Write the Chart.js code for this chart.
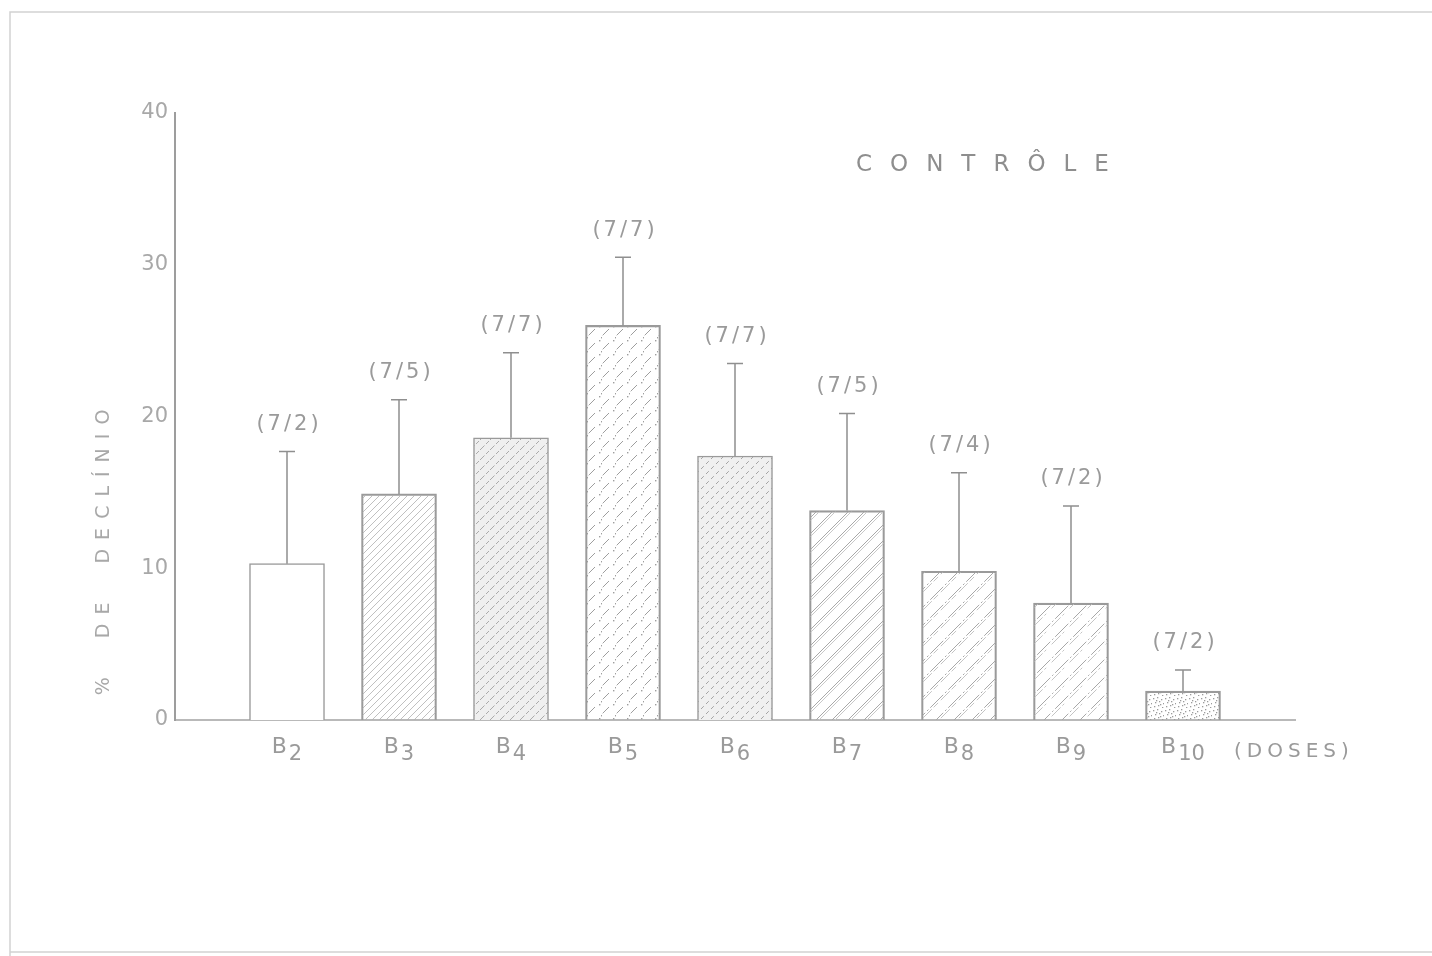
<!DOCTYPE html>
<html>
<head>
<meta charset="utf-8">
<script src="https://cdn.jsdelivr.net/npm/chart.js@4.4.1/dist/chart.umd.min.js"></script>
<style>
  html, body { margin: 0; padding: 0; background: #fff; }
  #wrap { width: 1432px; height: 956px; position: relative; }
</style>
</head>
<body>
<div id="wrap"><canvas id="c" width="1432" height="956"></canvas></div>
<script>
// ---- Data ----
const categories = ['B2', 'B3', 'B4', 'B5', 'B6', 'B7', 'B8', 'B9', 'B10'];
const meanDecline = [10.3, 14.9, 18.6, 26.0, 17.4, 13.8, 9.8, 7.7, 1.9];
const errorTop   = [17.7, 21.1, 24.2, 30.5, 23.5, 20.2, 16.3, 14.1, 3.3];
const groupCounts = ['(7/2)', '(7/5)', '(7/7)', '(7/7)', '(7/7)', '(7/5)', '(7/4)', '(7/2)', '(7/2)'];
const yTicks = [0, 10, 20, 30, 40];
const titleText = 'CONTRÔLE';
const yTitle = '%  DE  DECLÍNIO';
const xUnit = '(DOSES)';

// ---- Hatch patterns ----
const INK = '#a8a8a8';
function tile(size, draw) {
  const c = document.createElement('canvas');
  c.width = size; c.height = size;
  const g = c.getContext('2d');
  g.strokeStyle = INK; g.fillStyle = INK; g.lineWidth = 1;
  draw(g, size);
  return g.createPattern(c, 'repeat');
}
function diag(g, s, off) {
  g.beginPath();
  for (let k = -1; k <= 1; k++) {
    g.moveTo(k * s + off, s); g.lineTo(k * s + off + s, 0);
  }
  g.stroke();
}
function dashDiag(g, s, off, segs) {
  g.beginPath();
  for (let k = -1; k <= 1; k++) {
    for (const [a, b] of segs) {
      g.moveTo(k * s + off + a * s, s - a * s);
      g.lineTo(k * s + off + b * s, s - b * s);
    }
  }
  g.stroke();
}
function makePatterns() {
  return [
    '#ffffff',
    tile(7, (g, s) => { g.lineWidth = 0.8; g.strokeStyle = '#b0b0b0'; diag(g, s, 0); }),
    tile(10, (g, s) => { g.fillStyle = '#efefef'; g.fillRect(0,0,s,s); g.strokeStyle = '#aaaaaa'; dashDiag(g, s, 0, [[0,0.45],[0.6,0.9]]); }),
    tile(14, (g, s) => { g.strokeStyle = '#9e9e9e'; dashDiag(g, s, 0, [[0.05,0.5]]); g.fillStyle = '#9e9e9e'; g.fillRect(Math.round(s*0.75), Math.round(s*0.3), 1.4, 1.4); g.fillRect(Math.round(s*0.9), Math.round(s*0.1), 1.4, 1.4); }),
    tile(10, (g, s) => { g.fillStyle = '#f0f0f0'; g.fillRect(0,0,s,s); g.strokeStyle = '#a4a4a4'; dashDiag(g, s, 0, [[0.1,0.38],[0.6,0.88]]); }),
    tile(16, (g, s) => { diag(g, s, 0); g.strokeStyle = '#c8c8c8'; diag(g, s, 3); }),
    tile(18, (g, s) => { dashDiag(g, s, 0, [[0,0.4],[0.5,0.58],[0.68,1]]); g.strokeStyle = '#c4c4c4'; dashDiag(g, s, 3, [[0.1,0.6],[0.7,0.95]]); }),
    tile(18, (g, s) => { dashDiag(g, s, 0, [[0,0.35],[0.45,0.52],[0.62,1]]); g.strokeStyle = '#c4c4c4'; dashDiag(g, s, 4, [[0.2,0.7],[0.8,0.9]]); }),
    tile(12, (g, s) => {
      const pts = [[1,2],[5,1],[9,3],[3,6],[7,5],[11,7],[2,10],[6,9],[10,11],[8,8],[4,4]];
      g.fillStyle = '#9c9c9c';
      for (const [x, y] of pts) g.fillRect(x, y, 1.3, 1.3);
    })
  ];
}

// ---- Scale labels: blank slot at each end of the dose axis ----
const axisLabels = [''].concat(categories, ['']);
const barData = [null].concat(meanDecline, [null]);
const patterns = makePatterns();
const barFills = [null].concat(patterns, [null]);

const FONT = '"DejaVu Sans", sans-serif';
const TXT = '#9a9a9a';

function setSpacing(ctx, v) { if ('letterSpacing' in ctx) ctx.letterSpacing = v; }

const decorPlugin = {
  id: 'decor',
  beforeDraw(chart) {
    const ctx = chart.ctx;
    ctx.save();
    ctx.fillStyle = '#fff';
    ctx.fillRect(0, 0, chart.width, chart.height);
    // scanned page frame
    ctx.strokeStyle = '#d2d2d2';
    ctx.lineWidth = 1.5;
    ctx.beginPath();
    ctx.moveTo(10, 956); ctx.lineTo(10, 12); ctx.lineTo(1432, 12);
    ctx.moveTo(10, 952); ctx.lineTo(1432, 952);
    ctx.stroke();
    ctx.restore();
  },
  afterDraw(chart) {
    const ctx = chart.ctx;
    const xs = chart.scales.x, ys = chart.scales.y;
    ctx.save();
    ctx.strokeStyle = '#8f8f8f';
    ctx.lineWidth = 1.5;
    ctx.fillStyle = TXT;
    ctx.textBaseline = 'middle';
    categories.forEach((c, i) => {
      const x = xs.getPixelForValue(i + 1);
      const yb = ys.getPixelForValue(meanDecline[i]);
      const yt = ys.getPixelForValue(errorTop[i]);
      // error bar
      ctx.beginPath();
      ctx.moveTo(x, yb); ctx.lineTo(x, yt);
      ctx.moveTo(x - 8, yt); ctx.lineTo(x + 8, yt);
      ctx.stroke();
      // group count
      setSpacing(ctx, '3px');
      ctx.font = '21px ' + FONT;
      ctx.textAlign = 'center';
      ctx.fillText(groupCounts[i], x + 2, yt - 27);
      // dose label with subscript
      setSpacing(ctx, '0px');
      const letter = c[0], sub = c.slice(1);
      ctx.font = '22px ' + FONT;
      const wl = ctx.measureText(letter).width;
      ctx.font = '21px ' + FONT;
      const ws = ctx.measureText(sub).width;
      const x0 = x - (wl + ws + 2) / 2;
      ctx.textAlign = 'left';
      ctx.font = '22px ' + FONT;
      ctx.fillText(letter, x0, 747);
      ctx.font = '21px ' + FONT;
      ctx.fillText(sub, x0 + wl + 2, 755);
    });
    // (DOSES)
    setSpacing(ctx, '5px');
    ctx.textAlign = 'left';
    ctx.font = '20px ' + FONT;
    ctx.fillText(xUnit, 1234, 752);
    // title
    setSpacing(ctx, '18px');
    ctx.font = '23px ' + FONT;
    ctx.fillStyle = '#8e8e8e';
    ctx.fillText(titleText, 856, 165);
    // y axis title
    ctx.translate(104, 548);
    ctx.rotate(-Math.PI / 2);
    setSpacing(ctx, '9px');
    ctx.font = '19px ' + FONT;
    ctx.fillStyle = '#a8a8a8';
    ctx.textAlign = 'center';
    ctx.fillText(yTitle, 0, 0);
    ctx.restore();
  }
};

new Chart(document.getElementById('c'), {
  type: 'bar',
  data: {
    labels: axisLabels,
    datasets: [{
      data: barData,
      backgroundColor: barFills,
      borderColor: '#9a9a9a',
      borderWidth: 1.5,
      borderSkipped: 'bottom',
      barThickness: 75
    }]
  },
  options: {
    responsive: false,
    animation: false,
    events: [],
    layout: { padding: { left: 0, top: 113, right: 137, bottom: 0 } },
    plugins: { legend: { display: false }, tooltip: { enabled: false }, title: { display: false } },
    scales: {
      x: {
        offset: false,
        grid: { display: false, drawTicks: false },
        border: { display: true, color: '#b9b9b9', width: 2 },
        ticks: { display: false },
        afterFit(s) { s.height = 236; }
      },
      y: {
        min: 0, max: 40,
        afterBuildTicks(s) { s.ticks = yTicks.map(v => ({ value: v })); },
        grid: { display: false, drawTicks: true, tickLength: 5, tickColor: '#b0b0b0' },
        border: { display: true, color: '#9d9d9d', width: 2 },
        ticks: { color: '#a8a8a8', font: { family: 'DejaVu Sans', size: 21 }, padding: 2 },
        afterFit(s) { s.width = 175; }
      }
    }
  },
  plugins: [decorPlugin]
});
</script>
</body>
</html>
